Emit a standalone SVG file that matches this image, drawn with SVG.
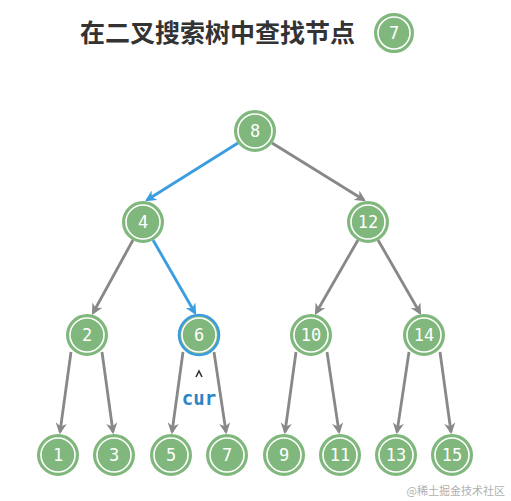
<svg xmlns="http://www.w3.org/2000/svg" width="511" height="501" viewBox="0 0 511 501">
<style>
.bg{fill:#ffffff}
.o{fill:#80b77d;stroke:#80b77d;stroke-width:2}
.ob{fill:#80b77d;stroke:#3a9de0;stroke-width:2.5}
.i{fill:none;stroke:#ffffff;stroke-width:1.6}
.t{font-family:"DejaVu Sans Mono",monospace;font-size:17px;fill:#ffffff;text-anchor:middle;dominant-baseline:central}
.e{stroke:#888888;stroke-width:2.8;fill:none;marker-end:url(#ag)}
.eb{stroke:#3a9de0;stroke-width:2.8;fill:none;marker-end:url(#ab)}
</style>
<defs>
<marker id="ag" viewBox="0 0 10 10" refX="8" refY="5" markerWidth="4" markerHeight="4" orient="auto" markerUnits="strokeWidth"><path d="M0,0 L10,5 L0,10 L3,5 z" fill="#888888"/></marker>
<marker id="ab" viewBox="0 0 10 10" refX="8" refY="5" markerWidth="4" markerHeight="4" orient="auto" markerUnits="strokeWidth"><path d="M0,0 L10,5 L0,10 L3,5 z" fill="#3a9de0"/></marker>
</defs>
<rect class="bg" x="0" y="0" width="511" height="501"/>
<g id="title">
<text x="80" y="42" font-family="'Noto Sans CJK SC',sans-serif" font-size="25" font-weight="bold" fill="#333333" textLength="275" lengthAdjust="spacingAndGlyphs">在二叉搜索树中查找节点</text>
<circle class="o" cx="394" cy="33" r="19"/><circle class="i" cx="394" cy="33" r="16"/>
<text class="t" x="394" y="33">7</text>
</g>
<g id="connectors">
<line class="eb" x1="238" y1="143" x2="147" y2="200"/>
<line class="e" x1="272" y1="143" x2="364" y2="200"/>
<line class="e" x1="133" y1="240" x2="93" y2="313"/>
<line class="eb" x1="153" y1="240" x2="195" y2="313"/>
<line class="e" x1="358" y1="240" x2="316" y2="313"/>
<line class="e" x1="378" y1="240" x2="420" y2="313"/>
<line class="e" x1="71" y1="352" x2="60" y2="432"/>
<line class="e" x1="102" y1="352" x2="113" y2="432"/>
<line class="e" x1="183" y1="352" x2="172" y2="432"/>
<line class="e" x1="214" y1="352" x2="226" y2="432"/>
<line class="e" x1="296" y1="352" x2="285" y2="432"/>
<line class="e" x1="327" y1="352" x2="339" y2="432"/>
<line class="e" x1="409" y1="352" x2="397" y2="432"/>
<line class="e" x1="440" y1="352" x2="451" y2="432"/>
</g>
<g id="n8"><circle class="o" cx="255" cy="131" r="20"/><circle class="i" cx="255" cy="131" r="17"/><text class="t" x="255" y="131">8</text></g>
<g id="n4"><circle class="o" cx="143" cy="222" r="20"/><circle class="i" cx="143" cy="222" r="17"/><text class="t" x="143" y="222">4</text></g>
<g id="n12"><circle class="o" cx="368" cy="222" r="20"/><circle class="i" cx="368" cy="222" r="17"/><text class="t" x="368" y="222">12</text></g>
<g id="n2"><circle class="o" cx="87" cy="335" r="20"/><circle class="i" cx="87" cy="335" r="17"/><text class="t" x="87" y="335">2</text></g>
<g id="n6"><circle class="ob" cx="199" cy="335" r="20"/><circle class="i" cx="199" cy="335" r="17"/><text class="t" x="199" y="335">6</text></g>
<g id="n10"><circle class="o" cx="311" cy="335" r="20"/><circle class="i" cx="311" cy="335" r="17"/><text class="t" x="311" y="335">10</text></g>
<g id="n14"><circle class="o" cx="424" cy="335" r="20"/><circle class="i" cx="424" cy="335" r="17"/><text class="t" x="424" y="335">14</text></g>
<g id="n1"><circle class="o" cx="58" cy="455" r="20"/><circle class="i" cx="58" cy="455" r="17"/><text class="t" x="58" y="455">1</text></g>
<g id="n3"><circle class="o" cx="114" cy="455" r="20"/><circle class="i" cx="114" cy="455" r="17"/><text class="t" x="114" y="455">3</text></g>
<g id="n5"><circle class="o" cx="171" cy="455" r="20"/><circle class="i" cx="171" cy="455" r="17"/><text class="t" x="171" y="455">5</text></g>
<g id="n7"><circle class="o" cx="227" cy="455" r="20"/><circle class="i" cx="227" cy="455" r="17"/><text class="t" x="227" y="455">7</text></g>
<g id="n9"><circle class="o" cx="284" cy="455" r="20"/><circle class="i" cx="284" cy="455" r="17"/><text class="t" x="284" y="455">9</text></g>
<g id="n11"><circle class="o" cx="340" cy="455" r="20"/><circle class="i" cx="340" cy="455" r="17"/><text class="t" x="340" y="455">11</text></g>
<g id="n13"><circle class="o" cx="396" cy="455" r="20"/><circle class="i" cx="396" cy="455" r="17"/><text class="t" x="396" y="455">13</text></g>
<g id="n15"><circle class="o" cx="452" cy="455" r="20"/><circle class="i" cx="452" cy="455" r="17"/><text class="t" x="452" y="455">15</text></g>
<g id="cur">
<path d="M196,377 L199,371 L202,377" fill="none" stroke="#333333" stroke-width="1.6"/>
<text x="199" y="405" font-family="'DejaVu Sans Mono',monospace" font-size="19" font-weight="bold" fill="#2a86c8" text-anchor="middle">cur</text>
</g>
<text x="505" y="495" font-family="'Noto Sans CJK SC',sans-serif" font-size="11" fill="#b0b0b0" text-anchor="end">@稀土掘金技术社区</text>
</svg>
